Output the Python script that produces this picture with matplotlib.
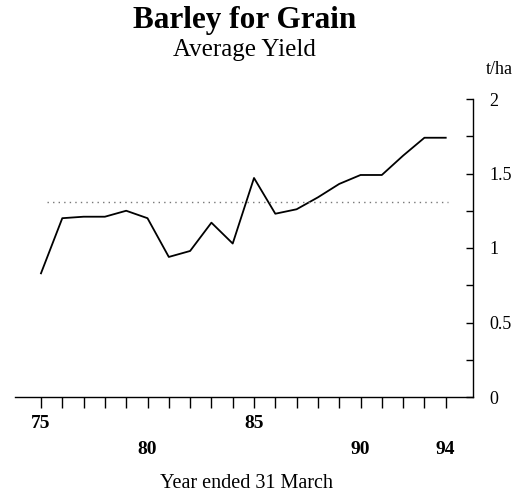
import numpy as np
import matplotlib.pyplot as plt
from matplotlib.ticker import MultipleLocator
import matplotlib.transforms as mtransforms

plt.rcParams["font.family"] = ["Liberation Serif", "DejaVu Serif"]

years = np.arange(75, 95)
yield_tha = [0.83, 1.20, 1.21, 1.21, 1.25, 1.20, 0.94, 0.98, 1.17, 1.03,
             1.47, 1.23, 1.26, 1.34, 1.43, 1.49, 1.49, 1.62, 1.74, 1.74]
avg_level = 1.31
label_years_top = [75, 85]
label_years_low = [80, 90, 94]

fig = plt.figure(figsize=(5.2, 4.97), dpi=100)
ax = fig.add_axes([15 / 520, 100 / 497, 458 / 520, 298 / 497])

ax.plot(years, yield_tha, color="black", linewidth=1.3)
ax.axhline(avg_level, xmin=0.07, xmax=0.945, color="#777777",
           linestyle=(0, (1, 3)), linewidth=1.0)

ax.set_xlim(73.78, 95.28)
ax.set_ylim(0, 2)

for side in ["top", "left"]:
    ax.spines[side].set_visible(False)
ax.spines["right"].set_linewidth(1.0)
ax.spines["bottom"].set_linewidth(1.0)

# value axis on the right, ticks pointing inwards
ax.yaxis.tick_right()
ax.yaxis.set_minor_locator(MultipleLocator(0.25))
ax.set_yticks([0, 0.5, 1, 1.5, 2])
ax.set_yticklabels(["0", "0.5", "1", "1.5", "2"])
ax.tick_params(axis="y", which="both", direction="in", length=5,
               width=1.0, labelsize=13, pad=12)

ax.set_xticks(years)
ax.set_xticklabels([])
ax.tick_params(axis="x", which="both", direction="out", length=8, width=1.0)

# staggered year labels
trans = mtransforms.blended_transform_factory(ax.transData, ax.transAxes)
for yr in label_years_top:
    ax.text(yr, -0.088, str(yr), transform=trans, ha="center", va="center",
            fontsize=14, fontweight="bold")
for yr in label_years_low:
    ax.text(yr, -0.175, str(yr), transform=trans, ha="center", va="center",
            fontsize=14, fontweight="bold")

fig.text(245 / 520, 1 - 28 / 497, "Barley for Grain", ha="center",
         va="baseline", fontsize=22.5, fontweight="bold")
fig.text(244 / 520, 1 - 56 / 497, "Average Yield", ha="center",
         va="baseline", fontsize=18)
fig.text(499 / 520, 1 - 69 / 497, "t/ha", ha="center", va="center",
         fontsize=13)
fig.text(246 / 520, 1 - 483 / 497, "Year ended 31 March", ha="center",
         va="center", fontsize=14.5)

fig.savefig("out.png", dpi=100, facecolor="white")
